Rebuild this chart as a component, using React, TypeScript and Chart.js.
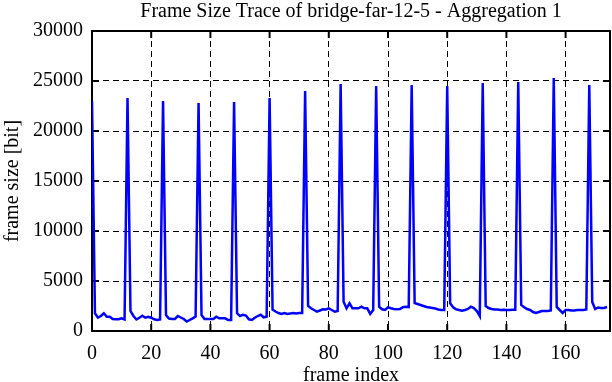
import { useEffect, useRef } from 'react';
import { Chart, registerables } from 'chart.js';

Chart.register(...registerables);

const TITLE = 'Frame Size Trace of bridge-far-12-5 - Aggregation 1';
const X_LABEL = 'frame index';
const Y_LABEL = 'frame size [bit]';

const X_MIN = 0;
const X_MAX = 175;
const X_STEP = 20;
const Y_MIN = 0;
const Y_MAX = 30000;
const Y_STEP = 5000;

// frame index 0..174
const frameIndex: number[] = Array.from({ length: 175 }, (_, i) => i);

// frame sizes in bit (GOP of 12 frames)
const frameSizeBits: number[] = [
  // 0-11
  23000, 1770, 1330, 1500, 1770, 1430, 1430, 1200, 1170, 1170, 1270, 1150,
  // 12-23
  23300, 2000, 1500, 1150, 1330, 1530, 1330, 1430, 1330, 1170, 1100, 1150,
  // 24-35
  23000, 1600, 1250, 1200, 1200, 1500, 1350, 1200, 950, 1100, 1270, 1450,
  // 36-47
  22800, 1600, 1200, 1200, 1200, 1200, 1430, 1270, 1270, 1270, 1100, 1100,
  // 48-59
  22900, 1770, 1500, 1630, 1550, 1170, 1100, 1330, 1500, 1630, 1370, 1430,
  // 60-71
  23300, 2150, 1950, 1800, 1700, 1800, 1700, 1750, 1800, 1750, 1800, 1800,
  // 72-83
  24000, 2500, 2270, 2100, 1930, 2050, 2170, 2150, 2270, 2100, 1930, 2000,
  // 84-95
  24700, 2930, 2270, 2770, 2270, 2270, 2270, 2430, 2270, 2270, 1700, 2100,
  // 96-107
  24500, 2430, 2170, 2100, 2370, 2270, 2200, 2170, 2200, 2370, 2430, 2400,
  // 108-119
  24600, 2800, 2700, 2600, 2500, 2400, 2350, 2300, 2250, 2150, 2100, 2100,
  // 120-131
  24500, 2770, 2370, 2170, 2100, 2030, 2100, 2200, 2430, 2300, 2000, 1500,
  // 132-143
  24800, 2500, 2300, 2200, 2150, 2150, 2100, 2130, 2100, 2100, 2130, 2130,
  // 144-155
  24900, 2600, 2370, 2200, 2100, 1900, 1800, 1900, 2000, 2000, 2000, 2050,
  // 156-167
  25300, 2400, 2100, 1800, 2100, 2100, 2050, 2050, 2100, 2100, 2100, 2150,
  // 168-174
  24600, 2900, 2200, 2350, 2300, 2300, 2400,
];

const SERIF = "'Liberation Serif', 'Times New Roman', 'DejaVu Serif', serif";

const framePlugin = {
  id: 'frameTicks',
  beforeDatasetsDraw(chart: any) {
    const { ctx, chartArea: a, scales } = chart;
    const len = 7;
    ctx.save();
    ctx.strokeStyle = '#000';
    ctx.lineWidth = 2;
    ctx.setLineDash([]);
    ctx.strokeRect(a.left, a.top, a.right - a.left, a.bottom - a.top);
    ctx.beginPath();
    scales.x.ticks.forEach((t: any) => {
      const px = scales.x.getPixelForValue(t.value);
      ctx.moveTo(px, a.bottom);
      ctx.lineTo(px, a.bottom - len);
      ctx.moveTo(px, a.top);
      ctx.lineTo(px, a.top + len);
    });
    scales.y.ticks.forEach((t: any) => {
      const py = scales.y.getPixelForValue(t.value);
      ctx.moveTo(a.left, py);
      ctx.lineTo(a.left + len, py);
      ctx.moveTo(a.right, py);
      ctx.lineTo(a.right - len, py);
    });
    ctx.stroke();
    ctx.restore();
  },
};

export default function App() {
  const canvasRef = useRef<HTMLCanvasElement | null>(null);

  useEffect(() => {
    document.body.style.margin = '0';
    const canvas = canvasRef.current;
    if (!canvas) return;
    const tickFont = { family: SERIF, size: 20, weight: 'normal' as const, lineHeight: 1 };
    const chart = new Chart(canvas, {
      type: 'line',
      data: {
        datasets: [
          {
            data: frameIndex.map((f, i) => ({ x: f, y: frameSizeBits[i] })),
            borderColor: '#0000ff',
            borderWidth: 2.5,
            pointRadius: 0,
            tension: 0,
            fill: false,
          },
        ],
      },
      options: {
        animation: false,
        responsive: true,
        maintainAspectRatio: false,
        layout: { padding: { left: 0, right: 2, top: 0, bottom: 0 } },
        plugins: {
          legend: { display: false },
          tooltip: { enabled: false },
          title: {
            display: true,
            text: TITLE,
            fullSize: false,
            color: '#000',
            font: { family: SERIF, size: 20, weight: 'normal', lineHeight: 1 },
            padding: { top: 2, bottom: 9 },
          },
        },
        scales: {
          x: {
            type: 'linear',
            min: X_MIN,
            max: X_MAX,
            afterBuildTicks: (axis: any) => {
              axis.ticks = axis.ticks.filter((t: any) => t.value % X_STEP === 0);
            },
            afterFit: (axis: any) => {
              axis.height = 51;
            },
            ticks: {
              stepSize: X_STEP,
              color: '#000',
              font: tickFont,
              padding: 13,
              maxRotation: 0,
              autoSkip: false,
              callback: (v: any) => String(v),
            },
            grid: { color: '#000', lineWidth: 1, drawTicks: false },
            border: { display: true, color: '#000', width: 2, dash: [6, 4] },
            title: {
              display: true,
              text: X_LABEL,
              color: '#000',
              font: tickFont,
              padding: { top: 0, bottom: -4 },
            },
          },
          y: {
            type: 'linear',
            min: Y_MIN,
            max: Y_MAX,
            afterFit: (axis: any) => {
              axis.width = 92;
            },
            ticks: {
              stepSize: Y_STEP,
              color: '#000',
              font: tickFont,
              padding: 9,
              autoSkip: false,
              callback: (v: any) => String(v),
            },
            grid: { color: '#000', lineWidth: 1, drawTicks: false },
            border: { display: true, color: '#000', width: 2, dash: [6, 4] },
            title: {
              display: true,
              text: Y_LABEL,
              color: '#000',
              font: tickFont,
              padding: { top: 3, bottom: 0 },
            },
          },
        },
      },
      plugins: [framePlugin],
    });
    return () => chart.destroy();
  }, []);

  return (
    <div style={{ position: 'relative', width: 612, height: 382 }}>
      <canvas ref={canvasRef} />
    </div>
  );
}
